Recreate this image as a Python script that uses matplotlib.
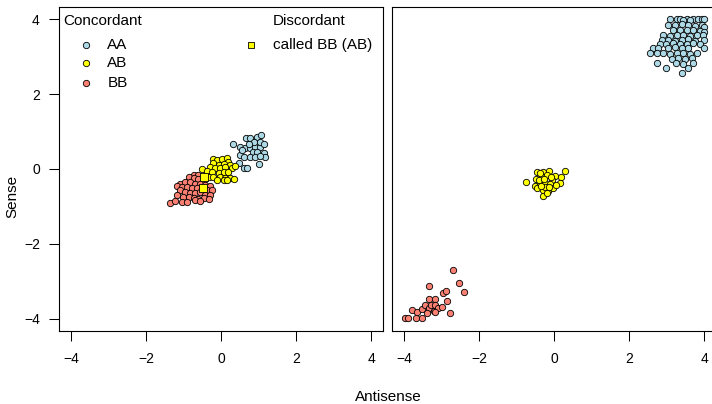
#!/usr/bin/env python3
"""Concordant / discordant genotype calls, sense vs antisense intensities"""

import matplotlib
matplotlib.use('Agg')
import matplotlib.pyplot as plt

plt.rcParams['font.family'] = ['Liberation Sans', 'DejaVu Sans']

# left panel: concordant calls
left_aa_x = [0.32, 0.67, 0.77, 0.95, 1.07, 0.51, 0.64, 0.77, 0.91, 1.02, 0.84, 0.95, 1.13, 1.17,
             0.49, 0.60, 0.76, 0.91, 1.04, 0.46, 0.60, 0.68, 1.00, 0.55, 0.86, 1.04, 0.73, 1.13]
left_aa_y = [0.68, 0.82, 0.84, 0.86, 0.90, 0.59, 0.55, 0.55, 0.59, 0.59, 0.46, 0.46, 0.43, 0.33,
             0.37, 0.33, 0.31, 0.33, 0.34, 0.17, 0.03, 0.02, 0.13, 0.50, 0.73, 0.73, 0.68, 0.68]

left_ab_x = [-0.21, -0.12, 0.02, 0.15, 0.19, -0.21, -0.07, 0.08, 0.24, -0.29, -0.16, -0.03, 0.11,
             0.28, -0.51, -0.38, -0.25, -0.07, 0.06, 0.19, -0.34, -0.21, -0.03, 0.11, 0.24, 0.33,
             -0.12, 0.06, 0.15, 0.36]
left_ab_y = [0.28, 0.24, 0.28, 0.30, 0.19, 0.15, 0.10, 0.12, 0.10, 0.06, 0.02, 0.02, 0.06,
             0.02, 0.00, -0.06, -0.07, -0.12, -0.07, -0.09, -0.21, -0.21, -0.21, -0.25, -0.25, -0.27,
             -0.30, -0.30, -0.30, 0.08]

left_bb_x = [-0.74, -0.61, -0.87, -0.74, -0.61, -0.47, -1.09, -0.96, -0.83, -0.69, -0.56, -0.43,
             -0.29, -1.18, -1.05, -0.91, -0.78, -0.65, -0.51, -0.38, -0.25, -1.09, -0.96, -0.83,
             -0.69, -0.56, -0.43, -0.29, -1.01, -0.87, -0.74, -0.61, -0.47, -0.34, -1.18, -1.05,
             -0.91, -0.69, -0.56, -1.36, -1.23]
left_bb_y = [-0.15, -0.16, -0.21, -0.25, -0.27, -0.30, -0.39, -0.34, -0.36, -0.39, -0.41, -0.43,
             -0.45, -0.45, -0.47, -0.47, -0.50, -0.52, -0.52, -0.56, -0.56, -0.56, -0.61, -0.65,
             -0.65, -0.61, -0.70, -0.70, -0.74, -0.74, -0.77, -0.79, -0.77, -0.80, -0.70, -0.88,
             -0.89, -0.83, -0.86, -0.92, -0.86]

# left panel: discordant (called BB, truth AB)
disc_x = [-0.46, -0.50]
disc_y = [-0.22, -0.51]

# right panel
right_aa_x = [3.08, 3.26, 3.35, 3.53, 3.71, 3.84, 3.93, 4.00, 3.62, 3.44,
              3.04, 3.22, 3.40, 3.57, 3.75, 3.93, 4.00,
              3.17, 3.35, 3.53, 3.71, 3.88, 4.00,
              2.91, 3.08, 3.26, 3.44, 3.62, 3.80, 3.97,
              2.86, 3.04, 3.22, 3.40, 3.57, 3.75, 4.00,
              2.82, 2.99, 3.17, 3.35, 3.53, 3.71, 3.88,
              2.64, 2.77, 3.04, 3.22, 3.40, 3.57, 4.00,
              2.55, 2.73, 2.91, 3.08, 3.26, 3.44, 3.62, 3.80,
              3.13, 3.31, 3.48, 3.66,
              2.74, 3.24, 3.44, 3.71,
              2.99, 3.57, 3.41]
right_aa_y = [4.00, 4.00, 4.00, 4.00, 4.00, 4.00, 4.00, 4.00, 3.98, 3.97,
              3.84, 3.84, 3.86, 3.84, 3.83, 3.85, 3.80,
              3.71, 3.72, 3.70, 3.71, 3.69, 3.66,
              3.57, 3.55, 3.58, 3.57, 3.56, 3.59, 3.57,
              3.44, 3.45, 3.43, 3.44, 3.46, 3.42, 3.44,
              3.35, 3.33, 3.36, 3.35, 3.34, 3.37, 3.33,
              3.24, 3.24, 3.22, 3.25, 3.24, 3.23, 3.24,
              3.09, 3.10, 3.09, 3.07, 3.10, 3.09, 3.08, 3.10,
              2.95, 2.97, 2.94, 2.96,
              2.82, 2.84, 2.80, 2.83,
              2.69, 2.70, 2.57]

right_ab_x = [-0.76, -0.47, -0.29, -0.14, 0.02, 0.18, 0.29, -0.48, -0.33, -0.20, -0.07, -0.51,
              -0.38, -0.25, -0.11, 0.15, -0.47, -0.31, -0.16, -0.04, -0.30, -0.20, -0.38, -0.25,
              -0.42, -0.28, -0.10, 0.05, -0.35, -0.15]
right_ab_y = [-0.36, -0.07, -0.07, -0.05, -0.18, -0.22, -0.06, -0.27, -0.21, -0.16, -0.30, -0.46,
              -0.38, -0.37, -0.40, -0.37, -0.52, -0.56, -0.58, -0.52, -0.71, -0.65, -0.12, -0.47,
              -0.30, -0.28, -0.22, -0.42, -0.45, -0.48]

right_bb_x = [-3.97, -3.90, -3.68, -3.53, -3.80, -3.67, -3.53, -3.44, -3.33, -3.22, -3.35, -3.19,
              -3.30, -3.18, -3.09, -3.00, -3.33, -2.97, -2.90, -2.86, -2.78, -2.70, -2.53, -2.40,
              -3.18, -3.40]
right_bb_y = [-3.99, -3.99, -3.99, -3.99, -3.77, -3.81, -3.75, -3.63, -3.72, -3.79, -3.48, -3.48,
              -3.63, -3.63, -3.72, -3.68, -3.13, -3.30, -3.25, -3.52, -3.84, -2.71, -3.04, -3.28,
              -3.81, -3.85]

ticks = [-4, -2, 0, 2, 4]
col_aa = '#ADD8E6'
col_ab = '#FFFF00'
col_bb = '#FA8072'


def style_axis(ax, show_y):
    ax.set_xlim(-4.32, 4.32)
    ax.set_ylim(-4.32, 4.34)
    ax.set_xticks(ticks)
    ax.set_xticklabels(['\u22124', '\u22122', '0', '2', '4'])
    ax.set_yticks(ticks)
    ax.set_yticklabels(['\u22124', '\u22122', '0', '2', '4'])
    ax.tick_params(axis='x', direction='out', length=7, width=0.75, labelsize=10, pad=8)
    ax.tick_params(axis='y', direction='out', length=7, width=0.75, labelsize=10, pad=7,
                   left=show_y, labelleft=show_y)
    for sp in ax.spines.values():
        sp.set_linewidth(0.8)
        sp.set_color('black')


def pts(ax, x, y, color, marker='o', s=21, z=2):
    ax.scatter(x, y, s=s, c=color, marker=marker, edgecolors='black', linewidths=0.6, zorder=z)


fig = plt.figure(figsize=(7.12, 4.04), dpi=100)
ax1 = fig.add_axes([0.0833, 0.1814, 0.4551, 0.8025])
ax2 = fig.add_axes([0.5510, 0.1814, 0.4551, 0.8025])

pts(ax1, left_aa_x, left_aa_y, col_aa)
pts(ax1, left_ab_x, left_ab_y, col_ab)
pts(ax1, left_bb_x, left_bb_y, col_bb)
pts(ax1, disc_x, disc_y, col_ab, marker='s', s=28, z=3)

pts(ax2, right_aa_x, right_aa_y, col_aa)
pts(ax2, right_ab_x, right_ab_y, col_ab)
pts(ax2, right_bb_x, right_bb_y, col_bb)

style_axis(ax1, True)
style_axis(ax2, False)

# legend drawn by hand, R style
lg = dict(transform=ax1.transAxes, fontsize=11, va='center', ha='left')
ax1.text(0.012, 0.955, 'Concordant', **lg)
ax1.text(0.659, 0.955, 'Discordant', **lg)
for yy, lab, col in [(0.881, 'AA', col_aa), (0.825, 'AB', col_ab), (0.765, 'BB', col_bb)]:
    ax1.scatter([0.0824], [yy], s=21, c=col, edgecolors='black', linewidths=0.6,
                transform=ax1.transAxes, clip_on=False)
    ax1.text(0.148, yy, lab, **lg)
ax1.scatter([0.592], [0.881], s=20, c=col_ab, marker='s', edgecolors='black', linewidths=0.6,
            transform=ax1.transAxes, clip_on=False)
ax1.text(0.659, 0.881, 'called BB (AB)', **lg)

fig.text(12.7 / 712, 1 - 196 / 404, 'Sense', rotation=90, fontsize=11, ha='center', va='center')
fig.text(388 / 712, 1 - 397 / 404, 'Antisense', fontsize=11, ha='center', va='center')

fig.savefig('out.png', dpi=100)
plt.close(fig)
